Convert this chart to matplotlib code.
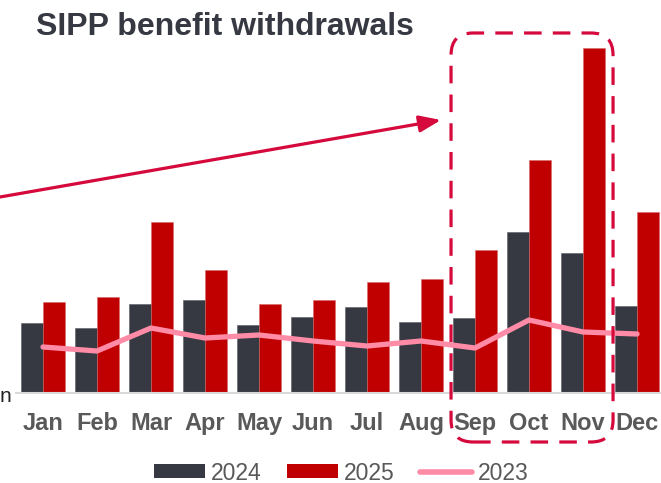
import matplotlib
matplotlib.use("Agg")
import matplotlib.pyplot as plt
import numpy as np
from matplotlib.patches import FancyBboxPatch, Patch
from matplotlib.lines import Line2D
from matplotlib.transforms import IdentityTransform

plt.rcParams['font.family'] = ['Liberation Sans', 'DejaVu Sans']

# ---- data (arbitrary units) ----
months = ["Jan", "Feb", "Mar", "Apr", "May", "Jun",
          "Jul", "Aug", "Sep", "Oct", "Nov", "Dec"]
s2024 = [70, 65, 89, 93, 68, 76, 86, 71, 75, 161, 140, 87]
s2025 = [91, 96, 171, 123, 89, 93, 111, 114, 143, 233, 345, 181]
s2023 = [46, 42, 65, 55, 58, 52, 47, 52, 45, 73, 61, 59]
title = "SIPP benefit withdrawals"
highlight = ("Sep", "Nov")

C24 = "#363842"
C25 = "#C00000"
C23 = "#FF8BA7"
ACC = "#D5093C"
TXT = "#595959"

W, H = 661, 483
fig = plt.figure(figsize=(W / 100, H / 100), dpi=100)
ax = fig.add_axes([16 / W, (H - 393) / H, 1 - 16 / W, 360 / H])

x = np.arange(len(months))
bw = 22 / 54
ax.bar(x - bw / 2, s2024, width=bw, color=C24, edgecolor="#5a5b63", linewidth=0.4, zorder=2)
ax.bar(x + bw / 2, s2025, width=bw, color=C25, edgecolor="#d96a6a", linewidth=0.4, zorder=2)
ax.plot(x, s2023, color=C23, lw=3.8, solid_capstyle="round", solid_joinstyle="round", zorder=3)

ax.set_xlim(-0.5, 11.444)
ax.set_ylim(0, 360)
for s in ["top", "right", "left"]:
    ax.spines[s].set_visible(False)
ax.spines["bottom"].set_color("#d9d9d9")
ax.spines["bottom"].set_linewidth(1.5)
ax.set_yticks([])
ax.set_xticks(x)
ax.set_xticklabels(months, fontsize=17, fontweight="bold", color=TXT)
ax.tick_params(axis="x", length=0, pad=14)

fig.text(36 / W, 1 - 27 / H, title, fontsize=23, fontweight="bold",
         color="#363842", va="center", ha="left")

# partially visible axis label at the far left
fig.text(0, 1 - 397 / H, "n", fontsize=15, color="#222222", ha="left", va="center")

# highlight box around Sep-Nov
fig.canvas.draw()
i0, i1 = months.index(highlight[0]), months.index(highlight[1])
p0 = ax.transData.transform((i0 - 0.444, 0))
p1 = ax.transData.transform((i1 + 0.556, 0))
left, right = p0[0], p1[0]
top = H - 33
bottom = H - 442
r = 22
box = FancyBboxPatch((left + r, bottom + r), right - left - 2 * r, top - bottom - 2 * r,
                     boxstyle=f"round,pad={r}", transform=IdentityTransform(),
                     fill=False, edgecolor=ACC, lw=2.3, linestyle=(0, (5.5, 3.5)),
                     clip_on=False, zorder=5)
fig.add_artist(box)

# arrow
fig.add_artist(matplotlib.patches.FancyArrowPatch(
    (0, H - 197), (441, H - 120), transform=IdentityTransform(),
    arrowstyle="-|>,head_length=13,head_width=5", mutation_scale=1,
    color=ACC, lw=2.3, shrinkA=0, shrinkB=0, zorder=5))

handles = [Patch(facecolor=C24, label="2024"),
           Patch(facecolor=C25, label="2025"),
           Line2D([], [], color=C23, lw=4, solid_capstyle="round", label="2023")]
leg = fig.legend(handles=handles, loc="center", bbox_to_anchor=(341 / W, 10 / H),
                 ncol=3, frameon=False, fontsize=16.5, handlelength=2.25,
                 handleheight=0.57, handletextpad=0.25, columnspacing=1.1,
                 borderpad=0, borderaxespad=0)
for t in leg.get_texts():
    t.set_color(TXT)

fig.savefig("out.png", dpi=100)
